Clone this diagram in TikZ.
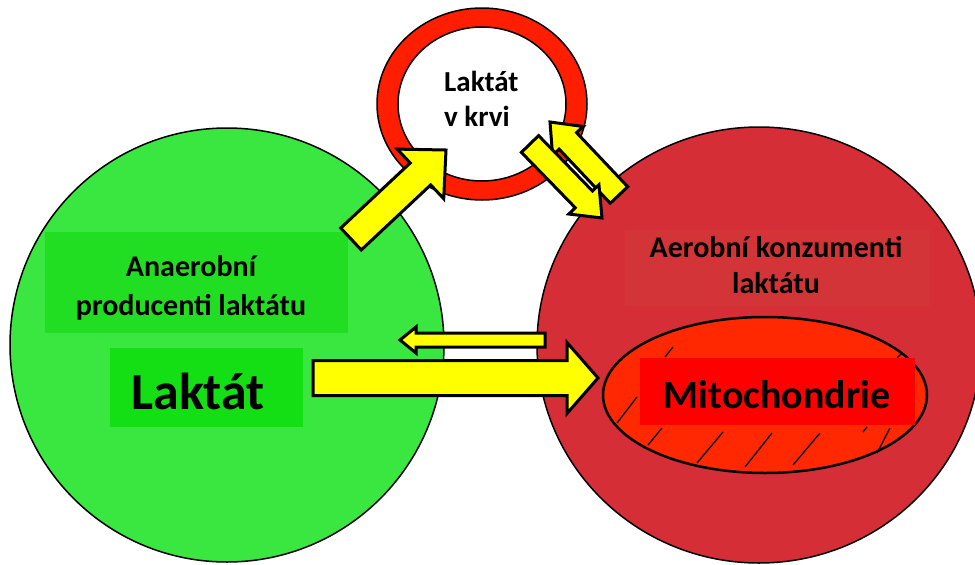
\documentclass[tikz,border=0pt]{standalone}
\usepackage{fontspec}
\setmainfont{Carlito}
\usetikzlibrary{calc,shapes.geometric}
\definecolor{grnC}{RGB}{58,230,64}
\definecolor{grnBoxA}{RGB}{34,222,34}
\definecolor{grnBoxB}{RGB}{20,222,20}
\definecolor{redC}{RGB}{214,46,54}
\definecolor{redBox}{RGB}{210,52,56}
\definecolor{ringRed}{RGB}{255,30,0}
\definecolor{mitoFill}{RGB}{255,40,0}
\definecolor{mitoBox}{RGB}{255,0,0}
\definecolor{yel}{RGB}{255,255,0}
\tikzset{
  bigcirc/.style={ellipse, draw=black, line width=1.5pt, inner sep=0pt},
  txt/.style={font=\bfseries, text=black, align=center, inner sep=0pt},
  boxfill/.style={draw=none, inner sep=0pt},
  yarrow/.style={fill=yel, draw=black, line width=3pt, line join=miter, miter limit=10},
  hatch/.style={draw=black, line width=1.3pt}
}
\newcommand\blockarrow[5]{%
  \coordinate (ba-h) at ($(#2)!#5!(#1)$);
  \draw[yarrow] ($(#1)!#3!90:(#2)$) -- ($(ba-h)!#3!90:(#2)$) -- ($(ba-h)!#4!90:(#2)$) -- (#2)
     -- ($(ba-h)!#4!-90:(#2)$) -- ($(ba-h)!#3!-90:(#2)$) -- ($(#1)!#3!-90:(#2)$) -- cycle;}
\begin{document}
\begin{tikzpicture}[x=1pt,y=-1pt]
\useasboundingbox[fill=white] (0,0) rectangle (975,565);
% big circles
\node[bigcirc, fill=grnC, minimum width=434pt, minimum height=434pt] (prod) at (227,345) {};
\node[bigcirc, fill=redC, minimum width=444pt, minimum height=436pt] (cons) at (759,345) {};
% blood ring
\node[ellipse, minimum width=210pt, minimum height=192pt, inner sep=0pt] (blood) at (482,104) {};
\path[fill=ringRed, even odd rule, draw=black, line width=1.5pt]
  (blood.center) ellipse [x radius=105pt, y radius=96pt]
  (blood.center) ellipse [x radius=84pt, y radius=77pt];
\node[txt, align=left, font=\bfseries\fontsize{29}{35}\selectfont, anchor=north west] (bloodtxt) at (444,71) {Laktát\\v krvi};
% producer boxes
\node[boxfill, fill=grnBoxA, minimum width=303pt, minimum height=101pt] (prodbox) at (196.5,282.5) {};
\node[txt, font=\bfseries\fontsize{30}{39}\selectfont] (prodtxt) at (191,288) {Anaerobní\\producenti laktátu};
\node[boxfill, fill=grnBoxB, minimum width=193pt, minimum height=79pt] (lakbox) at (206.5,387.5) {};
\node[txt, font=\bfseries\fontsize{52}{58}\selectfont] (laktat) at (198,391) {Laktát};
% consumer box
\node[boxfill, fill=redBox, minimum width=305pt, minimum height=76pt] (consbox) at (777.5,268) {};
\node[txt, font=\bfseries\fontsize{30}{36}\selectfont] (constxt) at (776,265) {Aerobní konzumenti\\laktátu};
% mitochondria
\node[ellipse, draw=black, line width=2.5pt, fill=mitoFill, minimum width=324pt, minimum height=156pt, inner sep=0pt] (mito) at (765,395) {};
\draw[hatch] (617,423) -- (637,397);
\draw[hatch] (648,445) -- (662,428);
\draw[hatch] (697,463) -- (723,432);
\draw[hatch] (745,467) -- (772,433);
\draw[hatch] (793,465) -- (820,433);
\draw[hatch] (863,432) -- (867,427);
\draw[hatch] (877,453) -- (890,428);
\draw[hatch] (897,358) -- (902,353);
\draw[hatch] (665,357) -- (673,347);
\node[boxfill, fill=mitoBox, minimum width=275pt, minimum height=67pt] (mitobox) at (777.5,391.5) {};
\node[txt, font=\bfseries\fontsize{40}{45}\selectfont] (mitotxt) at (777,395) {Mitochondrie};
% arrows
\coordinate (a1t) at (351,239); \coordinate (a1h) at (446,150);
\coordinate (a2t) at (530,144); \coordinate (a2h) at (602,218);
\coordinate (a3t) at (619,195); \coordinate (a3h) at (550,122);
\coordinate (a4t) at (545,340); \coordinate (a4h) at (400,340);
\coordinate (a5t) at (313,378); \coordinate (a5h) at (598,378);
\blockarrow{a1t}{a1h}{15pt}{34pt}{35pt}
\blockarrow{a3t}{a3h}{12pt}{21pt}{26pt}
\blockarrow{a2t}{a2h}{12pt}{21pt}{26pt}
\blockarrow{a4t}{a4h}{7pt}{13pt}{16pt}
\blockarrow{a5t}{a5h}{17.5pt}{35.5pt}{31pt}
\end{tikzpicture}
\end{document}
